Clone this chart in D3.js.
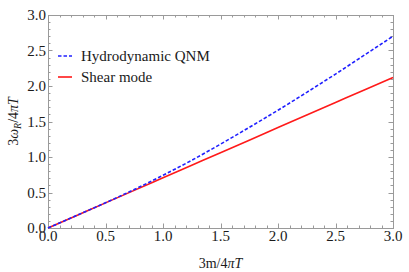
<!DOCTYPE html>
<html><head><meta charset="utf-8">
<script src="https://cdn.jsdelivr.net/npm/d3@7"></script>
<style>
body{margin:0;background:#fff;}
</style></head>
<body>
<svg id="c" width="409" height="272" font-family="'Liberation Serif','DejaVu Serif',serif"></svg>
<script>
const xVals = [0, 0.25, 0.5, 0.75, 1.0, 1.25, 1.5, 1.75, 2.0, 2.25, 2.5, 2.75, 3.0];
const hydroQNM = [0, 0.177, 0.356, 0.542, 0.742, 0.954, 1.181, 1.417, 1.659, 1.911, 2.168, 2.434, 2.701];
const shearMode = [0, 0.177, 0.354, 0.530, 0.707, 0.884, 1.061, 1.237, 1.414, 1.591, 1.768, 1.945, 2.121];
const xTicks = [0, 0.5, 1.0, 1.5, 2.0, 2.5, 3.0];
const yTicks = [0, 0.5, 1.0, 1.5, 2.0, 2.5, 3.0];
const seriesNames = ["Hydrodynamic QNM", "Shear mode"];

const svg = d3.select("#c");
const L = 48, R = 393, T = 15, B = 228;
const x = d3.scaleLinear().domain([0, 3]).range([L, R]);
const y = d3.scaleLinear().domain([0, 3]).range([B, T]);
const frame = "#9a9a9a";
const txt = "#1a1a1a";

svg.append("rect").attr("x", L + 0.5).attr("y", T + 0.5).attr("width", R - L).attr("height", B - T)
  .attr("fill", "none").attr("stroke", frame).attr("stroke-width", 1);

const minor = d3.range(0, 3.0001, 0.1);
function tickSet(g, scale, orient, len, vals) {
  vals.forEach(v => {
    const p = Math.round(scale(v)) + 0.5;
    if (orient === "b") g.append("line").attr("x1", p).attr("x2", p).attr("y1", B).attr("y2", B - len);
    if (orient === "t") g.append("line").attr("x1", p).attr("x2", p).attr("y1", T).attr("y2", T + len);
    if (orient === "l") g.append("line").attr("y1", p).attr("y2", p).attr("x1", L).attr("x2", L + len);
    if (orient === "r") g.append("line").attr("y1", p).attr("y2", p).attr("x1", R).attr("x2", R - len);
  });
}
const tg = svg.append("g").attr("stroke", frame).attr("stroke-width", 1);
["b","t"].forEach(o => { tickSet(tg, x, o, 2.5, minor); tickSet(tg, x, o, 4.5, xTicks); });
["l","r"].forEach(o => { tickSet(tg, y, o, 2.5, minor); tickSet(tg, y, o, 4.5, yTicks); });

svg.append("g").selectAll("text").data(xTicks).join("text")
  .attr("x", d => x(d)).attr("y", 241).attr("text-anchor", "middle").attr("fill", txt)
  .attr("font-size", 15).text(d => d.toFixed(1));
svg.append("g").selectAll("text").data(yTicks).join("text")
  .attr("x", 46).attr("y", d => y(d) + 5).attr("text-anchor", "end").attr("fill", txt)
  .attr("font-size", 15).text(d => d.toFixed(1));

const xt = svg.append("text").attr("x", (L + R) / 2).attr("y", 268).attr("text-anchor", "middle")
  .attr("font-size", 14).attr("fill", txt);
xt.append("tspan").text("3m/4");
xt.append("tspan").attr("font-style", "italic").text("π");
xt.append("tspan").attr("font-style", "italic").text("T");

const yt = svg.append("text").attr("transform", `translate(18,${(T + B) / 2}) rotate(-90)`)
  .attr("text-anchor", "middle").attr("font-size", 14).attr("fill", txt);
yt.append("tspan").text("3");
yt.append("tspan").attr("font-style", "italic").text("ω");
yt.append("tspan").attr("font-style", "italic").attr("font-size", 10).attr("dy", 3).text("R");
yt.append("tspan").attr("dy", -3).text("/4");
yt.append("tspan").attr("font-style", "italic").text("π");
yt.append("tspan").attr("font-style", "italic").text("T");

const line = d3.line().x(d => x(d[0])).y(d => y(d[1])).curve(d3.curveMonotoneX);
svg.append("path").datum(xVals.map((v, i) => [v, shearMode[i]]))
  .attr("d", line).attr("fill", "none").attr("stroke", "#ff1a1a").attr("stroke-width", 1.6);
svg.append("path").datum(xVals.map((v, i) => [v, hydroQNM[i]]))
  .attr("d", line).attr("fill", "none").attr("stroke", "#2020ff").attr("stroke-width", 1.6)
  .attr("stroke-dasharray", "3.5,2");

const legColors = ["#2020ff", "#ff1a1a"];
const legDash = ["3.5,2", null];
seriesNames.forEach((n, i) => {
  const yy = 56 + i * 21;
  svg.append("line").attr("x1", 58).attr("x2", 72).attr("y1", yy).attr("y2", yy)
    .attr("stroke", legColors[i]).attr("stroke-width", 1.6).attr("stroke-dasharray", legDash[i]);
  svg.append("text").attr("x", 81).attr("y", yy + 5).attr("font-size", 15).attr("fill", txt).text(n);
});
</script>
</body></html>
